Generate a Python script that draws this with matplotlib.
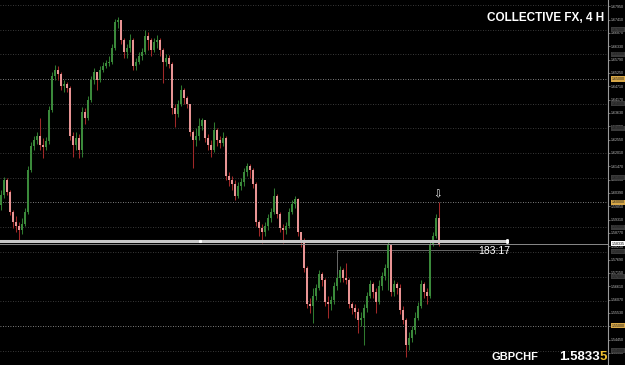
import numpy as np
import matplotlib
matplotlib.use('Agg')
import matplotlib.pyplot as plt

plt.rcParams['font.family'] = ['Liberation Sans', 'DejaVu Sans']

# ******************************** candle data (GBPCHF, 4H) ********************************
first_open = 1.5990
closes = [1.6030, 1.6091, 1.6042, 1.5961, 1.5921, 1.5905, 1.5889, 1.5913, 1.5961, 1.6132,
          1.6229, 1.6253, 1.6269, 1.6233, 1.6225, 1.6249, 1.6375, 1.6512, 1.6537, 1.6520,
          1.6472, 1.6480, 1.6464, 1.6269, 1.6233, 1.6261, 1.6213, 1.6366, 1.6342, 1.6415,
          1.6496, 1.6528, 1.6496, 1.6537, 1.6553, 1.6565, 1.6569, 1.6626, 1.6731, 1.6739,
          1.6658, 1.6609, 1.6626, 1.6658, 1.6553, 1.6569, 1.6593, 1.6609, 1.6674, 1.6658,
          1.6618, 1.6650, 1.6658, 1.6618, 1.6569, 1.6585, 1.6561, 1.6383, 1.6358, 1.6399,
          1.6456, 1.6423, 1.6399, 1.6285, 1.6253, 1.6269, 1.6310, 1.6334, 1.6261, 1.6233,
          1.6213, 1.6294, 1.6253, 1.6241, 1.6261, 1.6107, 1.6091, 1.6075, 1.6026, 1.6067,
          1.6083, 1.6123, 1.6148, 1.6132, 1.6075, 1.5921, 1.5897, 1.5880, 1.5905, 1.5937,
          1.5961, 1.6026, 1.5953, 1.5897, 1.5889, 1.5905, 1.5961, 1.5994, 1.6014, 1.5880,
          1.5848, 1.5735, 1.5589, 1.5581, 1.5621, 1.5654, 1.5710, 1.5686, 1.5597, 1.5589,
          1.5605, 1.5662, 1.5694, 1.5727, 1.5694, 1.5686, 1.5589, 1.5573, 1.5556, 1.5524,
          1.5532, 1.5573, 1.5621, 1.5670, 1.5637, 1.5597, 1.5662, 1.5702, 1.5735, 1.5832,
          1.5637, 1.5670, 1.5654, 1.5565, 1.5524, 1.5423, 1.5451, 1.5484, 1.5532, 1.5581,
          1.5670, 1.5637, 1.5621, 1.5832, 1.5864, 1.5937, 1.58335]
highs = [1.6051, 1.6103, 1.6099, 1.6051, 1.5970, 1.5945, 1.5921, 1.5937, 1.5978, 1.6148,
         1.6245, 1.6269, 1.6285, 1.6342, 1.6261, 1.6265, 1.6391, 1.6528, 1.6557, 1.6553,
         1.6528, 1.6496, 1.6488, 1.6472, 1.6285, 1.6285, 1.6277, 1.6387, 1.6383, 1.6431,
         1.6512, 1.6545, 1.6528, 1.6553, 1.6569, 1.6577, 1.6593, 1.6642, 1.6743, 1.6751,
         1.6739, 1.6666, 1.6642, 1.6682, 1.6666, 1.6585, 1.6609, 1.6626, 1.6699, 1.6690,
         1.6666, 1.6666, 1.6678, 1.6666, 1.6626, 1.6601, 1.6597, 1.6569, 1.6399, 1.6415,
         1.6476, 1.6464, 1.6431, 1.6399, 1.6294, 1.6302, 1.6342, 1.6342, 1.6334, 1.6277,
         1.6253, 1.6326, 1.6302, 1.6269, 1.6285, 1.6269, 1.6123, 1.6107, 1.6091, 1.6083,
         1.6099, 1.6140, 1.6160, 1.6156, 1.6140, 1.6083, 1.5929, 1.5913, 1.5921, 1.5953,
         1.5978, 1.6059, 1.6034, 1.5961, 1.5913, 1.5921, 1.5978, 1.6010, 1.6026, 1.6018,
         1.5880, 1.5856, 1.5743, 1.5613, 1.5654, 1.5670, 1.5727, 1.5718, 1.5694, 1.5621,
         1.5621, 1.5678, 1.5710, 1.5743, 1.5735, 1.5755, 1.5694, 1.5597, 1.5589, 1.5573,
         1.5556, 1.5589, 1.5637, 1.5686, 1.5678, 1.5654, 1.5686, 1.5718, 1.5751, 1.5848,
         1.5824, 1.5686, 1.5678, 1.5670, 1.5581, 1.5532, 1.5475, 1.5500, 1.5556, 1.5597,
         1.5686, 1.5678, 1.5654, 1.5848, 1.5880, 1.5953, 1.6002]
lows = [1.5970, 1.6018, 1.6030, 1.5949, 1.5897, 1.5880, 1.5848, 1.5872, 1.5905, 1.5953,
        1.6123, 1.6213, 1.6237, 1.6213, 1.6180, 1.6213, 1.6237, 1.6366, 1.6496, 1.6496,
        1.6456, 1.6447, 1.6447, 1.6253, 1.6184, 1.6213, 1.6180, 1.6184, 1.6318, 1.6334,
        1.6407, 1.6480, 1.6456, 1.6488, 1.6528, 1.6545, 1.6553, 1.6561, 1.6618, 1.6707,
        1.6642, 1.6585, 1.6585, 1.6609, 1.6537, 1.6537, 1.6561, 1.6577, 1.6601, 1.6618,
        1.6593, 1.6609, 1.6626, 1.6593, 1.6484, 1.6553, 1.6545, 1.6358, 1.6306, 1.6346,
        1.6391, 1.6399, 1.6383, 1.6269, 1.6140, 1.6229, 1.6253, 1.6294, 1.6245, 1.6213,
        1.6184, 1.6204, 1.6229, 1.6221, 1.6229, 1.6091, 1.6067, 1.6051, 1.6010, 1.6018,
        1.6051, 1.6067, 1.6107, 1.6099, 1.6059, 1.5905, 1.5864, 1.5836, 1.5864, 1.5889,
        1.5921, 1.5953, 1.5937, 1.5880, 1.5836, 1.5872, 1.5897, 1.5953, 1.5978, 1.5864,
        1.5820, 1.5718, 1.5573, 1.5552, 1.5512, 1.5605, 1.5646, 1.5662, 1.5581, 1.5532,
        1.5565, 1.5589, 1.5646, 1.5678, 1.5678, 1.5670, 1.5573, 1.5548, 1.5532, 1.5471,
        1.5500, 1.5423, 1.5556, 1.5613, 1.5613, 1.5552, 1.5589, 1.5646, 1.5686, 1.5646,
        1.5621, 1.5621, 1.5629, 1.5548, 1.5508, 1.5374, 1.5403, 1.5435, 1.5467, 1.5524,
        1.5573, 1.5613, 1.5589, 1.5613, 1.5824, 1.5856, 1.5824]

# ******************************** levels and labels ********************************
grid_levels = [1.68, 1.67, 1.66, 1.65, 1.64, 1.63, 1.62, 1.61, 1.60, 1.59, 1.58, 1.57, 1.56, 1.55, 1.54]
gold_levels = [1.65, 1.60, 1.55]
grey_box_levels = [1.67, 1.66, 1.64, 1.63, 1.61, 1.59, 1.58, 1.57, 1.54]
tick_values = [1.6795, 1.6741, 1.6687, 1.6633, 1.6579, 1.6525, 1.6471, 1.6417, 1.6363, 1.6309,
               1.6255, 1.6201, 1.6147, 1.6093, 1.6039, 1.5985, 1.5931, 1.5877, 1.5823, 1.5769,
               1.5715, 1.5661, 1.5607, 1.5553, 1.5499, 1.5445, 1.5391]
support_line = 1.5844
bid_price = 1.58335
box_top = 1.5806
box_bottom = 1.5705
box_start = 112
timer_text = '183:17'
symbol = 'GBPCHF'
title = 'COLLECTIVE FX, 4 H'

# ******************************** figure ********************************
fig = plt.figure(figsize=(6.25, 3.65), dpi=100)
fig.patch.set_facecolor('black')
ax = fig.add_axes([0, 0, 608 / 625, 1])
ax.set_facecolor('black')

opens = [first_open] + closes[:-1]
idx = np.arange(len(closes))
o = np.array(opens)
c = np.array(closes)
bull = c >= o

body_col = np.where(bull, '#3b8a3b', '#e89494')
wick_col = np.where(bull, '#2f7a2f', '#a02828')

for lvl in grid_levels:
    col = '#a8a8a8' if lvl in gold_levels else '#4c4c4c'
    ax.axhline(lvl, color=col, lw=0.6, ls=(0, (1, 2)), zorder=1)

ax.vlines(idx, lows, highs, colors=wick_col, lw=0.75, zorder=3)
heights = np.where(np.abs(c - o) < 0.0002, 0.0002, c - o)
ax.bar(idx, heights, bottom=o, width=0.6, color=body_col, lw=0, zorder=4)

# horizontal objects
ax.axhline(support_line, xmin=0, xmax=507 / 608, color='#c8c8c8', lw=2.2, zorder=5)
ax.axhline(bid_price, color='#8a8a8a', lw=0.7, zorder=5)
ax.plot([box_start, 169], [box_top, box_top], color='#6a6a6a', lw=0.7, zorder=2)
ax.plot([box_start, box_start], [box_top, box_bottom], color='#6a6a6a', lw=0.7, zorder=2)
ax.plot([66.3], [support_line], marker='s', ms=1.2, color='white', zorder=6)
ax.plot([168.7, 168.7], [support_line + 0.0004, support_line - 0.0006], ls='none',
        marker='s', ms=1.0, color='white', zorder=6)

ax.text(len(closes) - 1.5, highs[-1] + 0.0010, '\u21e9', color='white', fontsize=7.5,
        ha='center', va='bottom', family=['DejaVu Sans'])
ax.text(164.5, bid_price - 0.0008, timer_text, color='white', fontsize=7.5,
        ha='center', va='top', zorder=7)

ax.set_xlim(-1 / 3, 607 / 3)
ax.set_ylim(1.53418, 1.682)

# right price axis
for s in ['left', 'top', 'bottom']:
    ax.spines[s].set_visible(False)
ax.spines['right'].set_color('#9a9a9a')
ax.spines['right'].set_linewidth(0.8)
ax.set_xticks([])
ax.yaxis.tick_right()
ax.set_yticks(tick_values)
ax.set_yticklabels(['%.5f' % v for v in tick_values])
ax.tick_params(axis='y', colors='#9a9a9a', labelcolor='#c0c0c0', labelsize=2.6,
               length=1.5, width=0.5, pad=0.6)

tr = ax.get_yaxis_transform()
for lvl in grey_box_levels:
    ax.text(1.006, lvl, '%.5f' % lvl, transform=tr, fontsize=2.6, color='#1a1a1a',
            va='center', ha='left', clip_on=False, zorder=8,
            bbox=dict(boxstyle='square,pad=0.15', fc='#3a3a3a', ec='none'))
for lvl in gold_levels:
    ax.text(1.006, lvl, '%.5f' % lvl, transform=tr, fontsize=2.6, color='#1a1a1a',
            va='center', ha='left', clip_on=False, zorder=8,
            bbox=dict(boxstyle='square,pad=0.15', fc='#d8a848', ec='none'))
ax.text(1.006, bid_price, '%.5f' % bid_price, transform=tr, fontsize=2.6, color='black',
        va='center', ha='left', clip_on=False, zorder=9,
        bbox=dict(boxstyle='square,pad=0.15', fc='white', ec='none'))

# ******************************** texts ********************************
fig.text(604 / 625, 1 - 18 / 365, title, color='white', fontsize=8.5, fontweight='bold',
         ha='right', va='center')
fig.text(492 / 625, 1 - 357 / 365, symbol, color='white', fontsize=8, fontweight='bold',
         ha='left', va='center')
price_str = '%.5f' % bid_price
fig.text(600 / 625, 1 - 357 / 365, price_str[:-1], color='white', fontsize=9.5,
         fontweight='bold', ha='right', va='center')
fig.text(600 / 625, 1 - 357 / 365, price_str[-1], color='#f0c030', fontsize=9.5,
         fontweight='bold', ha='left', va='center')

fig.savefig('out.png', dpi=100, facecolor='black')
